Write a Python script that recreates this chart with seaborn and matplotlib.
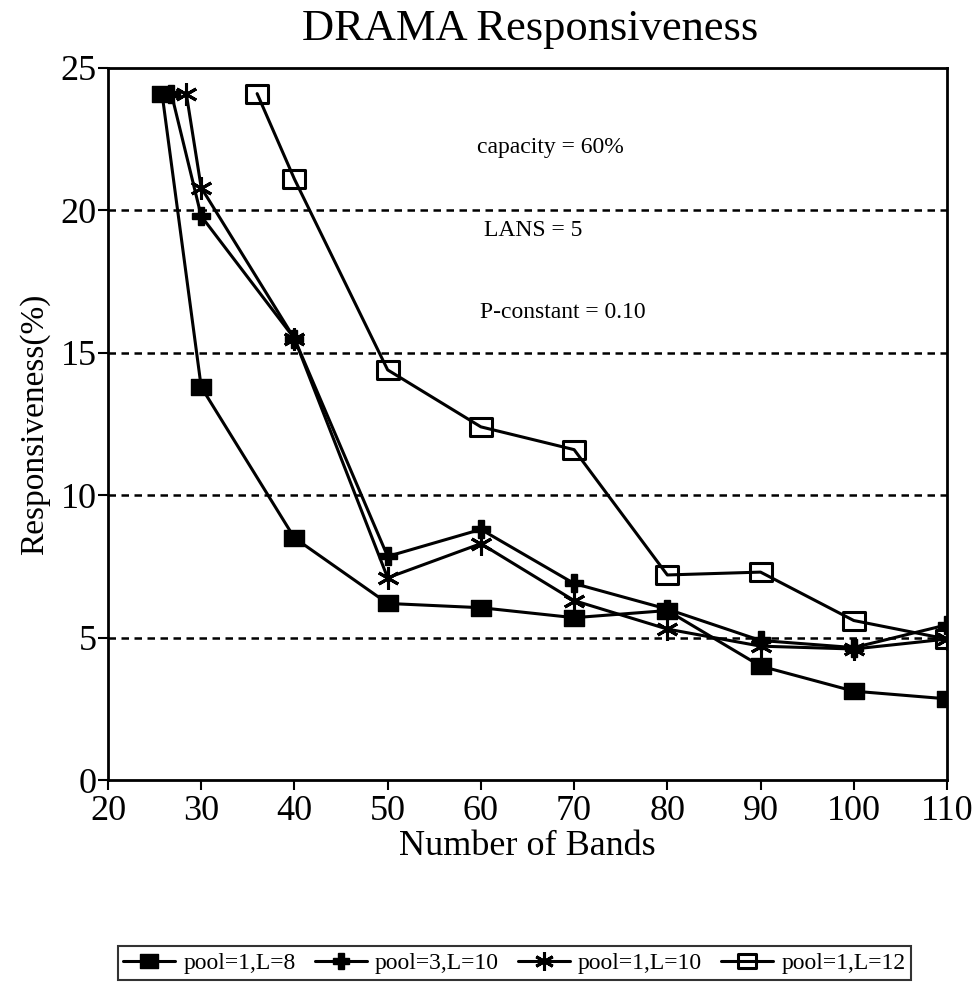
import numpy as np
import pandas as pd
import matplotlib
matplotlib.use("Agg")
import matplotlib.pyplot as plt
from matplotlib.path import Path
import seaborn as sns

# Responsiveness (%) versus number of bands, one list pair per configuration
labels = ["pool=1,L=8", "pool=3,L=10", "pool=1,L=10", "pool=1,L=12"]

bands_p1_l8 = [25.8, 30, 40, 50, 60, 70, 80, 90, 100, 110]
resp_p1_l8 = [24.1, 13.8, 8.5, 6.2, 6.05, 5.7, 5.95, 4.0, 3.12, 2.85]

bands_p3_l10 = [26.8, 30, 40, 50, 60, 70, 80, 90, 100, 110]
resp_p3_l10 = [24.1, 19.8, 15.5, 7.85, 8.8, 6.9, 6.0, 4.9, 4.65, 5.45]

bands_p1_l10 = [28.4, 30, 40, 50, 60, 70, 80, 90, 100, 110]
resp_p1_l10 = [24.1, 20.8, 15.5, 7.1, 8.3, 6.3, 5.3, 4.7, 4.6, 4.95]

bands_p1_l12 = [36.0, 40, 50, 60, 70, 80, 90, 100, 110]
resp_p1_l12 = [24.1, 21.1, 14.4, 12.4, 11.6, 7.2, 7.3, 5.6, 4.95]

x_ticks = [20, 30, 40, 50, 60, 70, 80, 90, 100, 110]
y_ticks = [0, 5, 10, 15, 20, 25]
notes = ["capacity = 60%", "LANS = 5", "P-constant = 0.10"]

sns.set_theme(style="ticks")
plt.rcParams["font.family"] = ["Liberation Serif", "DejaVu Serif"]
plt.rcParams["text.color"] = "black"
plt.rcParams["axes.labelcolor"] = "black"
plt.rcParams["xtick.color"] = "black"
plt.rcParams["ytick.color"] = "black"

series = [
    (labels[0], bands_p1_l8, resp_p1_l8),
    (labels[1], bands_p3_l10, resp_p3_l10),
    (labels[2], bands_p1_l10, resp_p1_l10),
    (labels[3], bands_p1_l12, resp_p1_l12),
]
frames = []
for name, xs, ys in series:
    frames.append(pd.DataFrame({"bands": xs, "resp": ys, "config": name}))
df = pd.concat(frames, ignore_index=True)

# slightly wide rectangle used for the square markers
rect = Path([(-1.3, -1), (1.3, -1), (1.3, 1), (-1.3, 1), (-1.3, -1)],
            [Path.MOVETO, Path.LINETO, Path.LINETO, Path.LINETO, Path.CLOSEPOLY])

styles = {
    labels[0]: dict(marker=rect, markersize=15, markerfacecolor="black",
                    markeredgecolor="black", markeredgewidth=1),
    labels[1]: dict(marker="P", markersize=13, markerfacecolor="black",
                    markeredgecolor="black", markeredgewidth=1),
    labels[2]: dict(marker=(6, 2, 0), markersize=16, markerfacecolor="black",
                    markeredgecolor="black", markeredgewidth=2.2),
    labels[3]: dict(marker=rect, markersize=16, markerfacecolor="none",
                    markeredgecolor="black", markeredgewidth=2.2),
}

fig = plt.figure(figsize=(9.78, 9.84), dpi=100)
ax = fig.add_axes([0.1104, 0.2073, 0.8579, 0.7236])

for name in labels:
    sub = df[df["config"] == name]
    sns.lineplot(data=sub, x="bands", y="resp", ax=ax, color="black",
                 linewidth=2.2, sort=False, label=name, legend=False,
                 **styles[name])

# dashed reference lines at each inner y tick
for yv in y_ticks[1:-1]:
    ax.axhline(yv, color="black", linestyle=(0, (3, 2.2)), linewidth=1.8,
               zorder=0.5)

ax.set_xlim(20, 110)
ax.set_ylim(0, 25)
ax.set_xticks(x_ticks)
ax.set_yticks(y_ticks)
ax.tick_params(axis="both", direction="out", length=7, width=1.5,
               color="black", labelsize=26)
ax.tick_params(axis="x", pad=4)
ax.tick_params(axis="y", pad=1)
for sp in ax.spines.values():
    sp.set_visible(True)
    sp.set_color("black")
    sp.set_linewidth(2)

ax.set_xlabel("Number of Bands", fontsize=26, labelpad=1)
ax.set_ylabel("Responsiveness(%)", fontsize=24, labelpad=8)
fig.text(0.542, 0.971, "DRAMA Responsiveness", ha="center", va="center",
         fontsize=32)

ax.text(59.6, 22.2, notes[0], ha="left", va="center", fontsize=17)
ax.text(60.3, 19.3, notes[1], ha="left", va="center", fontsize=17)
ax.text(59.9, 16.4, notes[2], ha="left", va="center", fontsize=17)

handles, hl = ax.get_legend_handles_labels()
leg = fig.legend(handles, hl, loc="center", bbox_to_anchor=(0.526, 0.0213),
                 ncol=4, frameon=True, fancybox=False, edgecolor="black",
                 fontsize=17, handlelength=2.2, handletextpad=0.35,
                 columnspacing=0.8, borderpad=0.25, borderaxespad=0,
                 markerscale=0.85)
leg.get_frame().set_linewidth(1.5)

fig.savefig("out.png", dpi=100, facecolor="white")
